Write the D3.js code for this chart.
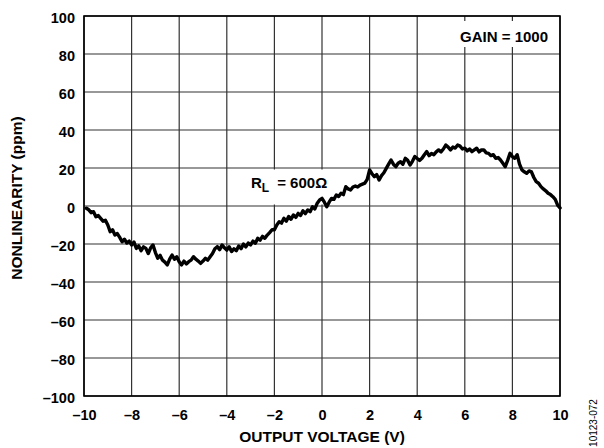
<!DOCTYPE html>
<html>
<head>
<meta charset="utf-8">
<script src="https://cdn.jsdelivr.net/npm/d3@7"></script>
<style>
  html, body { margin: 0; padding: 0; background: #fff; }
  svg text { font-family: "Liberation Sans", Arial, sans-serif; }
</style>
</head>
<body>
<svg id="chart" width="604" height="448"></svg>
<script>
// ---- data ----
const xTicks = [-10, -8, -6, -4, -2, 0, 2, 4, 6, 8, 10];
const yTicks = [-100, -80, -60, -40, -20, 0, 20, 40, 60, 80, 100];
const voltage = d3.range(-99, 101).map(i => i / 10);
const nonlinearity = [
  -1.2, -2, -3.5, -3, -5.6, -5, -6.5, -8, -7.5, -10,
  -13.5, -12.5, -15.3, -14.5, -16.5, -18.8, -17.5, -19.5, -18.5, -20.5,
  -19, -22.3, -21, -23.5, -21.5, -22.3, -25, -22, -20.5, -24.5,
  -27.5, -26, -28.5, -29.5, -31, -28, -25.8, -28, -26.7, -29.3,
  -31, -29, -30.5, -29.3, -28.5, -26.7, -28, -29, -30.2, -29,
  -27.5, -28.5, -26.7, -25, -22.5, -21.4, -23, -20.5, -22, -23.2,
  -21.5, -24, -22.5, -23.5, -21, -22.5, -20, -21.5, -19.5, -20.5,
  -18.5, -19.6, -17, -18, -16, -17, -15.3, -14, -12.5, -12.5,
  -10, -8.3, -9, -6.5, -8, -5.5, -7, -4.7, -6, -3.9,
  -5, -2.5, -4, -2.1, -3, -0.4, -1.5, 1.5, 3.2, 4.0,
  2, -0.4, 2, 4.0, 3.5, 5.8, 5, 6.7, 6, 10.2,
  9, 8.4, 10, 10.5, 10, 11, 11.5, 12, 14, 19,
  17, 15.4, 16.5, 13.7, 16, 17.5, 19.8, 22, 24.2, 22,
  20.7, 22.5, 23.3, 22, 25.1, 24, 21.6, 23.5, 26, 25,
  24, 25.1, 27, 28.6, 26.5, 27.7, 27, 28.5, 29.5, 28.5,
  30, 32.1, 31, 29.5, 31, 30.5, 32.1, 31.5, 30, 30.4,
  29, 30, 28.6, 29.5, 30.4, 28.5, 29.5, 29.5, 28, 27.7,
  26.5, 27, 25.1, 25.5, 24.2, 22.5, 20.7, 24, 27.7, 26,
  25.1, 27, 22, 19, 18, 17.2, 18.5, 18, 15, 12.8,
  12, 10.2, 9, 8, 6.7, 6, 4.9, 3.5, 0.5, -1
];
const data = voltage.map((v, i) => ({ x: v, y: nonlinearity[i] }));

// ---- layout ----
const svg = d3.select("#chart");
const mLeft = 84, mRight = 560, mTop = 16, mBottom = 396;
const x = d3.scaleLinear().domain([-10, 10]).range([mLeft, mRight]);
const y = d3.scaleLinear().domain([-100, 100]).range([mBottom, mTop]);
const fmt = d => (d < 0 ? "\u2013" + Math.abs(d) : String(d));

// grid
const grid = svg.append("g");
grid.selectAll("line.v").data(xTicks).join("line")
  .attr("x1", d => x(d)).attr("x2", d => x(d))
  .attr("y1", mTop).attr("y2", mBottom)
  .attr("stroke", "#333").attr("stroke-width", 1.2);
grid.selectAll("line.h").data(yTicks).join("line")
  .attr("x1", mLeft).attr("x2", mRight)
  .attr("y1", d => y(d)).attr("y2", d => y(d))
  .attr("stroke", "#333").attr("stroke-width", 1.2);

// label backgrounds
svg.append("rect").attr("x", 454).attr("y", 21).attr("width", 102).attr("height", 26).attr("fill", "#fff");
svg.append("rect").attr("x", 245).attr("y", 169.5).attr("width", 92).attr("height", 35).attr("fill", "#fff");

// frame
svg.append("rect").attr("x", mLeft).attr("y", mTop)
  .attr("width", mRight - mLeft).attr("height", mBottom - mTop)
  .attr("fill", "none").attr("stroke", "#000").attr("stroke-width", 1.6);

// axes (labels only)
const xAxis = d3.axisBottom(x).tickValues(xTicks).tickFormat(fmt).tickSize(0).tickPadding(14);
const gx = svg.append("g").attr("transform", `translate(0,${mBottom})`).call(xAxis);
gx.select(".domain").remove();
gx.selectAll("text").attr("font-size", 14.5).attr("font-weight", "bold")
  .attr("font-family", "Liberation Sans, Arial, sans-serif").attr("fill", "#000");

const yAxis = d3.axisLeft(y).tickValues(yTicks).tickFormat(fmt).tickSize(0).tickPadding(9);
const gy = svg.append("g").attr("transform", `translate(${mLeft},0)`).call(yAxis);
gy.select(".domain").remove();
gy.selectAll("text").attr("font-size", 14.5).attr("font-weight", "bold").attr("dy", "0.43em")
  .attr("font-family", "Liberation Sans, Arial, sans-serif").attr("fill", "#000");

// curve
svg.append("path").datum(data)
  .attr("fill", "none").attr("stroke", "#000").attr("stroke-width", 3.4)
  .attr("stroke-linejoin", "round").attr("stroke-linecap", "round")
  .attr("d", d3.line().x(d => x(d.x)).y(d => y(d.y)));

// annotations
svg.append("text").attr("x", 548).attr("y", 41.5).attr("text-anchor", "end")
  .attr("font-size", 15).attr("font-weight", "bold").text("GAIN = 1000");

const rl = svg.append("text").attr("x", 251).attr("y", 187.5)
  .attr("font-size", 15).attr("font-weight", "bold");
rl.append("tspan").text("R");
rl.append("tspan").attr("dy", 4.5).attr("font-size", 12).text("L");
rl.append("tspan").attr("dy", -4.5).attr("dx", 8).text("= 600\u03A9");

// axis titles
svg.append("text").attr("x", 322).attr("y", 442).attr("text-anchor", "middle")
  .attr("font-size", 15.5).attr("font-weight", "bold").text("OUTPUT VOLTAGE (V)");
svg.append("text").attr("transform", `translate(22,198) rotate(-90)`)
  .attr("text-anchor", "middle").attr("font-size", 15.5).attr("font-weight", "bold")
  .text("NONLINEARITY (ppm)");

svg.append("text").attr("transform", "translate(597,423) rotate(-90)")
  .attr("text-anchor", "middle").attr("font-size", 10).text("10123-072");
</script>
</body>
</html>
